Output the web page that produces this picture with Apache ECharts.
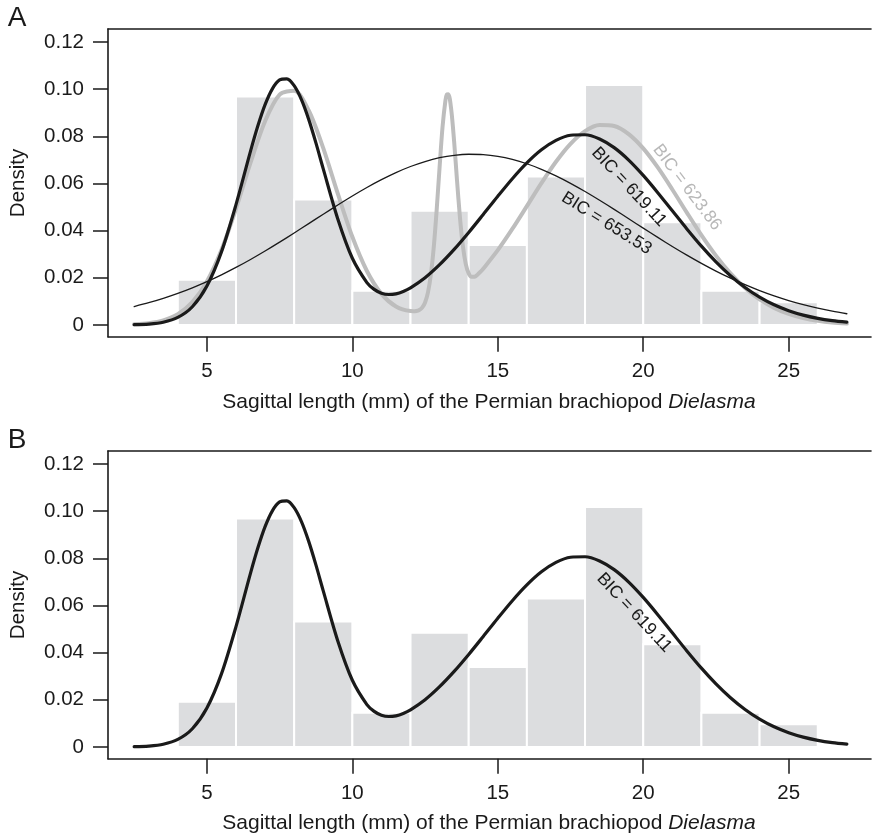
<!DOCTYPE html>
<html>
<head>
<meta charset="utf-8">
<script src="https://cdn.jsdelivr.net/npm/echarts@6/dist/echarts.min.js"></script>
<style>
html,body{margin:0;padding:0;background:#fff;}
#chart{width:872px;height:837px;}
</style>
</head>
<body>
<div id="chart"></div>
<script>
// ---- histogram (bin start / end in mm, density) ----
const binStart = [4, 6, 8, 10, 12, 14, 16, 18, 20, 22, 24];
const binEnd   = [6, 8, 10, 12, 14, 16, 18, 20, 22, 24, 26];
const binDensity = [0.0192, 0.0969, 0.0532, 0.0145, 0.0484, 0.0339, 0.0629, 0.1017, 0.0435, 0.0145, 0.0096];

// ---- curves ----
// single normal, BIC = 653.53
const bic653X = [2.5,3,3.5,4,4.5,5,5.5,6,6.5,7,7.5,8,8.5,9,9.5,10,10.5,11,11.5,12,12.5,13,13.5,14,14.5,15,15.5,16,16.5,17,17.5,18,18.5,19,19.5,20,20.5,21,21.5,22,22.5,23,23.5,24,24.5,25,25.5,26,26.5,27];
const bic653Y = [0.0078,0.00941,0.01126,0.01336,0.01572,0.01835,0.02124,0.02438,0.02776,0.03134,0.0351,0.03899,0.04296,0.04694,0.05086,0.05467,0.05828,0.06161,0.06461,0.06719,0.0693,0.0709,0.07193,0.07238,0.07224,0.0715,0.0702,0.06835,0.066,0.06321,0.06005,0.05658,0.05286,0.04899,0.04503,0.04105,0.03711,0.03328,0.0296,0.02611,0.02284,0.01982,0.01705,0.01455,0.01232,0.01034,0.00861,0.00711,0.00582,0.00473];
// two-component mixture, BIC = 619.11
const bic619X = [2.5,3,3.5,4,4.5,5,5.5,6,6.5,6.75,7,7.25,7.5,7.75,8,8.25,8.5,8.75,9,9.5,10,10.5,10.75,11,11.25,11.5,11.75,12,12.5,13,13.5,14,14.5,15,15.5,16,16.5,17,17.5,18,18.5,19,19.5,20,20.5,21,21.5,22,22.5,23,23.5,24,24.5,25,25.5,26,26.5,27];
const bic619Y = [0.0001,0.00036,0.00113,0.00316,0.0077,0.01649,0.03097,0.05102,0.07371,0.08433,0.09341,0.10013,0.10389,0.10434,0.10146,0.09555,0.08717,0.0771,0.06618,0.04495,0.02826,0.01795,0.01506,0.01345,0.01289,0.01319,0.01419,0.01572,0.02002,0.02555,0.03202,0.03921,0.04684,0.05456,0.062,0.0687,0.07425,0.07825,0.08044,0.08064,0.07884,0.07518,0.06992,0.06341,0.05609,0.04839,0.04071,0.0334,0.02674,0.02086,0.01588,0.01179,0.00853,0.00603,0.00415,0.00279,0.00183,0.00117];
// three-component mixture, BIC = 623.86
const bic623X = [2.5,3,3.5,4,4.5,5,5.5,6,6.5,7,7.5,8,8.5,9,9.5,10,10.5,11,11.5,12,12.1,12.2,12.3,12.4,12.5,12.6,12.7,12.8,12.9,13,13.1,13.2,13.25,13.3,13.4,13.5,13.6,13.7,13.8,13.9,14,14.1,14.2,14.3,14.4,14.5,15,15.5,16,16.5,17,17.5,18,18.5,19,19.5,20,20.5,21,21.5,22,22.5,23,23.5,24,24.5,25,25.5,26,26.5,27];
const bic623Y = [0.00025,0.00073,0.00192,0.00453,0.00964,0.01846,0.03181,0.04931,0.0688,0.08639,0.09764,0.09931,0.09093,0.07494,0.05566,0.03736,0.02287,0.01317,0.00783,0.00586,0.00581,0.00592,0.00633,0.00733,0.00953,0.01383,0.02139,0.03313,0.04894,0.06703,0.08387,0.09521,0.09773,0.09787,0.09122,0.07761,0.06101,0.04546,0.03349,0.02581,0.02183,0.02038,0.02042,0.02126,0.02245,0.02383,0.0317,0.0407,0.05038,0.06013,0.06921,0.07681,0.08219,0.0848,0.08437,0.08094,0.07487,0.06678,0.05744,0.04763,0.03809,0.02937,0.02183,0.01565,0.01082,0.00721,0.00464,0.00287,0.00172,0.00099,0.00055];

// ---- ticks ----
const xTicks = [5, 10, 15, 20, 25];
const yTicks = [0, 0.02, 0.04, 0.06, 0.08, 0.10, 0.12];

// ---- annotation labels (data coords) ----
const labelsA = [
  {text: 'BIC = 619.11', x: 19.51, y: 0.0585, angle: 47, color: '#1a1a1a'},
  {text: 'BIC = 653.53', x: 18.74, y: 0.0431, angle: 32, color: '#1a1a1a'},
  {text: 'BIC = 623.86', x: 21.51, y: 0.0583, angle: 53, color: '#b8b8b8'}
];
const labelsB = [
  {text: 'BIC = 619.11', x: 19.69, y: 0.0569, angle: 47, color: '#1a1a1a'}
];

const FONT = '"Liberation Sans", Arial, Helvetica, sans-serif';
const TXT = '#1a1a1a';
const pairs = (xs, ys) => xs.map((x, i) => [x, ys[i]]);
const histData = binStart.map((s, i) => [s, binEnd[i], binDensity[i]]);

// plot box runs off the right edge of the page in the original; x range chosen to keep 29.09 px/mm
const X_MIN = 1.6, X_MAX = 27.83;
const grids = [
  {left: 108, top: 29, width: 763, height: 307.7, show: false},
  {left: 108, top: 451, width: 763, height: 307.7, show: false}
];
const frameLine = {show: true, onZero: false, lineStyle: {color: '#1a1a1a', width: 1.6}};

function xAxis(gi) {
  return {
    type: 'value', gridIndex: gi, min: X_MIN, max: X_MAX, position: 'bottom',
    axisLine: frameLine,
    splitLine: {show: false},
    axisTick: {show: true, customValues: xTicks, length: 15, inside: false, lineStyle: {color: TXT, width: 1.5}},
    axisLabel: {show: true, customValues: xTicks, margin: 24, fontFamily: FONT, fontSize: 20.5, color: TXT}
  };
}
function xAxisTop(gi) {
  return {
    type: 'value', gridIndex: gi, min: X_MIN, max: X_MAX, position: 'top',
    axisLine: frameLine, axisTick: {show: false}, axisLabel: {show: false}, splitLine: {show: false}
  };
}
function yAxis(gi) {
  return {
    type: 'value', gridIndex: gi, min: -0.005, max: 0.1255, position: 'left',
    axisLine: frameLine,
    splitLine: {show: false},
    axisTick: {show: true, customValues: yTicks, length: 15, inside: false, lineStyle: {color: TXT, width: 1.5}},
    axisLabel: {show: true, customValues: yTicks, margin: 24, fontFamily: FONT, fontSize: 20.5, color: TXT,
      formatter: v => (Math.abs(v) < 1e-9 ? '0' : Number(v).toFixed(2))}
  };
}

function histSeries(gi) {
  return {
    type: 'custom', xAxisIndex: gi, yAxisIndex: gi, z: 1, silent: true,
    data: histData,
    encode: {x: [0, 1], y: 2},
    renderItem: function (params, api) {
      const p0 = api.coord([api.value(0), api.value(2)]);
      const p1 = api.coord([api.value(1), 0]);
      return {
        type: 'rect',
        shape: {x: p0[0], y: p0[1], width: p1[0] - p0[0], height: p1[1] - p0[1]},
        style: {fill: '#dcdddf', stroke: '#ffffff', lineWidth: 2}
      };
    }
  };
}
function lineSeries(gi, data, color, width, z) {
  return {
    type: 'line', xAxisIndex: gi, yAxisIndex: gi, z: z, silent: true,
    data: data, showSymbol: false, symbol: 'none', smooth: 0.3,
    lineStyle: {color: color, width: width, cap: 'round', join: 'round'}
  };
}

const chart = echarts.init(document.getElementById('chart'), null, {renderer: 'canvas'});

function titleText(y) {
  return {
    type: 'text', x: 489, y: y, silent: true,
    style: {
      text: 'Sagittal length (mm) of the Permian brachiopod {i|Dielasma}',
      font: '21px ' + FONT, fill: TXT, align: 'center', verticalAlign: 'middle',
      textAlign: 'center', textVerticalAlign: 'middle',
      rich: {i: {fontStyle: 'italic', fontSize: 21, fontFamily: FONT, fill: TXT, color: TXT}}
    }
  };
}
function plainText(txt, x, y, size, rot) {
  return {
    type: 'text', x: x, y: y, rotation: rot || 0, silent: true,
    style: {text: txt, font: size + 'px ' + FONT, fill: TXT, align: 'center', verticalAlign: 'middle', textAlign: 'center', textVerticalAlign: 'middle'}
  };
}

const baseGraphics = [
  plainText('A', 17, 18, 28),
  plainText('B', 17, 440, 28),
  plainText('Density', 18, 183, 20.5, Math.PI / 2),
  plainText('Density', 18, 605, 20.5, Math.PI / 2),
  titleText(402),
  titleText(823)
];

chart.setOption({
  animation: false,
  backgroundColor: '#ffffff',
  grid: grids,
  xAxis: [xAxis(0), xAxis(1), xAxisTop(0), xAxisTop(1)],
  yAxis: [yAxis(0), yAxis(1)],
  series: [
    histSeries(0),
    lineSeries(0, pairs(bic623X, bic623Y), '#bdbdbd', 4, 3),
    lineSeries(0, pairs(bic653X, bic653Y), '#1a1a1a', 1.3, 4),
    lineSeries(0, pairs(bic619X, bic619Y), '#1a1a1a', 3.2, 5),
    histSeries(1),
    lineSeries(1, pairs(bic619X, bic619Y), '#1a1a1a', 3.2, 5)
  ],
  graphic: baseGraphics
});

function bicLabels(list, gi) {
  return list.map(l => {
    const p = chart.convertToPixel({xAxisIndex: gi, yAxisIndex: gi}, [l.x, l.y]);
    return {
      type: 'text', x: p[0], y: p[1], rotation: -l.angle * Math.PI / 180, silent: true, z: 10,
      style: {text: l.text, font: '17.5px ' + FONT, fill: l.color, align: 'center', verticalAlign: 'middle', textAlign: 'center', textVerticalAlign: 'middle'}
    };
  });
}
chart.setOption({graphic: baseGraphics.concat(bicLabels(labelsA, 0), bicLabels(labelsB, 1))}, {replaceMerge: ['graphic']});
</script>
</body>
</html>
